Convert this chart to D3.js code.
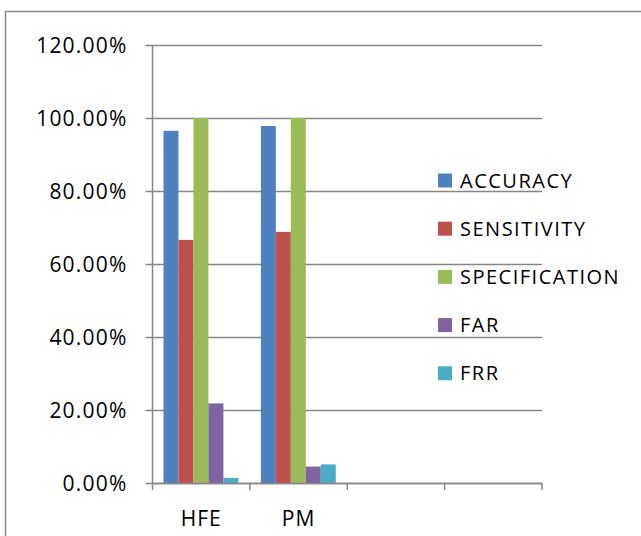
<!DOCTYPE html>
<html><head><meta charset="utf-8">
<script src="https://cdn.jsdelivr.net/npm/d3@7"></script>
<style>html,body{margin:0;padding:0;background:#fff;}svg{display:block;}</style>
</head><body>
<svg id="c" width="641" height="536"></svg>
<script>
const categories = ["HFE", "PM", "", ""];
const seriesNames = ["ACCURACY", "SENSITIVITY", "SPECIFICATION", "FAR", "FRR"];
const accuracy = [0.965, 0.978, null, null];
const sensitivity = [0.666, 0.688, null, null];
const specification = [1.0, 1.0, null, null];
const far = [0.218, 0.045, null, null];
const frr = [0.014, 0.051, null, null];
const yTicks = [0, 0.2, 0.4, 0.6, 0.8, 1.0, 1.2];
const colors = ["#4F81BD", "#C0504D", "#9BBB59", "#8064A2", "#4BACC6"];
const seriesValues = [accuracy, sensitivity, specification, far, frr];

(function () {
const font = "'Open Sans', sans-serif";
const svg = d3.select("#c");

// outer frame
svg.append("rect").attr("x", 5.5).attr("y", 11.5).attr("width", 700).attr("height", 600)
  .attr("fill", "none").attr("stroke", "#898989").attr("stroke-width", 1.5);

const pl = 152.5, pr = 542, pt = 45, pb = 483;
const y = d3.scaleLinear().domain([0, 1.2]).range([pb, pt]);
const x = d3.scaleBand().domain(d3.range(categories.length)).range([pl, pr]).padding(0);
const xs = d3.scaleBand().domain(d3.range(seriesNames.length))
  .range([11, x.bandwidth() - 11.5]).padding(0);

// gridlines + y ticks
const yAxis = d3.axisLeft(y).tickValues(yTicks).tickSize(-(pr - pl)).tickSizeOuter(0)
  .tickFormat(d => (d * 100).toFixed(2) + "%").tickPadding(18);
const gy = svg.append("g").attr("transform", `translate(${pl},0)`).call(yAxis);
gy.select(".domain").remove();
gy.selectAll(".tick line").attr("stroke", "#868686").attr("stroke-width", 1.5).attr("x1", -7);
gy.selectAll(".tick text").attr("font-family", font).attr("font-size", 21).attr("fill", "#000")
  .attr("letter-spacing", 1.2).attr("x", -25).attr("dy", "0.35em");

// bars
seriesValues.forEach((vals, si) => {
  svg.append("g").selectAll("rect")
    .data(vals.map((v, i) => ({ v, i })).filter(d => d.v != null))
    .join("rect")
    .attr("x", d => x(d.i) + xs(si))
    .attr("width", xs.bandwidth())
    .attr("y", d => y(d.v))
    .attr("height", d => y(0) - y(d.v))
    .attr("fill", colors[si]);
});

// y axis line
svg.append("line").attr("x1", pl).attr("x2", pl).attr("y1", pt).attr("y2", pb)
  .attr("stroke", "#868686").attr("stroke-width", 1.5);

// x axis
const xAxis = d3.axisBottom(x).tickSize(0).tickFormat(i => categories[i]).tickPadding(28);
const gx = svg.append("g").attr("transform", `translate(0,${pb})`).call(xAxis);
gx.select(".domain").attr("stroke", "#868686").attr("stroke-width", 1.5);
gx.selectAll(".tick text").attr("font-family", font).attr("font-size", 21).attr("fill", "#000")
  .attr("letter-spacing", 1);
const boundaries = d3.range(categories.length + 1).map(i => i < categories.length ? x(i) : pr);
gx.selectAll("line.bt").data(boundaries).join("line").attr("class", "bt")
  .attr("x1", d => d).attr("x2", d => d).attr("y1", 0).attr("y2", 7)
  .attr("stroke", "#868686").attr("stroke-width", 1.5);

// legend
const lg = svg.append("g");
seriesNames.forEach((n, i) => {
  const cy = 180.5 + i * 48.2;
  lg.append("rect").attr("x", 438).attr("y", cy - 7).attr("width", 14).attr("height", 14).attr("fill", colors[i]);
  lg.append("text").attr("x", 460).attr("y", cy).attr("dy", "0.35em")
    .attr("font-family", font).attr("font-size", 20).attr("letter-spacing", 1.5)
    .attr("fill", "#000").text(n);
});
})();
</script>
</body></html>
